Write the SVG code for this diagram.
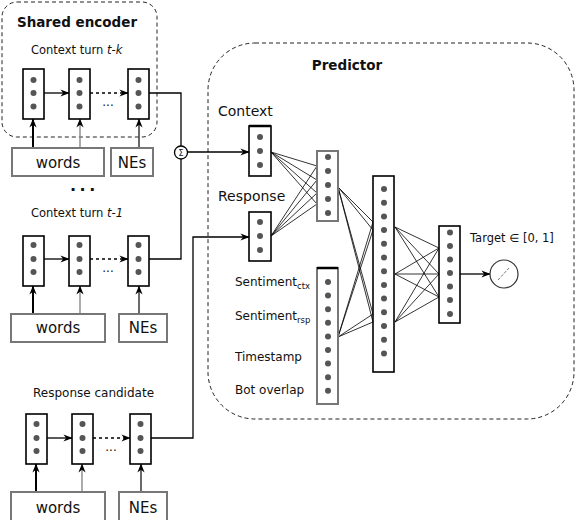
<svg xmlns="http://www.w3.org/2000/svg" width="576" height="520" viewBox="0 0 576 520">
<defs>
<marker id="ah" viewBox="0 0 10 10" refX="9.5" refY="5" markerWidth="9" markerHeight="9" markerUnits="userSpaceOnUse" orient="auto"><path d="M0,1 L10,5 L0,9 L3,5 z" fill="#000"/></marker>
</defs>
<style>
text, tspan{font-family:"DejaVu Sans","Liberation Sans",sans-serif;fill:#111}
.b{font-weight:bold}
.cell{fill:#fff;stroke:#000;stroke-width:1.6}
.gcell{fill:#fff;stroke:#777;stroke-width:2}
.dot{fill:#555}
.inp{fill:#fff;stroke:#777;stroke-width:2}
.grp{fill:none;stroke:#222;stroke-width:1;stroke-dasharray:4 3}
.ln{fill:none;stroke:#000;stroke-width:1.3}
.dash{fill:none;stroke:#000;stroke-width:1.3;stroke-dasharray:3 3}
.up1{stroke:#000;stroke-width:2}
.up2{stroke:#888;stroke-width:1.4}
.up3{stroke:#444;stroke-width:1.6}
.fc{stroke:#000;stroke-width:0.8}
.lbl{font-size:14px}
.small{font-size:11.5px}
.inl{font-size:15px}
.feat{font-size:12px}
</style>
<rect width="576" height="520" fill="#fff"/>

<!-- group frames -->
<g id="shared-encoder-frame">
<rect class="grp" x="2" y="2" width="155" height="135" rx="15"/>
<text class="b" x="77" y="27" font-size="13.5" text-anchor="middle">Shared encoder</text>
</g>
<g id="predictor-frame">
<rect class="grp" x="208" y="43" width="366" height="376" rx="47"/>
<text class="b" x="347" y="70" font-size="13.5" text-anchor="middle">Predictor</text>
</g>

<!-- connectors -->
<g id="connectors">
<!-- row t-k -->
<line class="ln" x1="44" y1="93" x2="69" y2="93" marker-end="url(#ah)"/>
<line class="dash" x1="90" y1="93" x2="128" y2="93" marker-end="url(#ah)"/>
<line class="up1" x1="33" y1="148" x2="33" y2="119" marker-end="url(#ah)"/>
<line class="up2" x1="80" y1="148" x2="80" y2="119" marker-end="url(#ah)"/>
<line class="up3" x1="139" y1="148" x2="139" y2="119" marker-end="url(#ah)"/>
<!-- row t-1 -->
<line class="ln" x1="44" y1="259" x2="69" y2="259" marker-end="url(#ah)"/>
<line class="dash" x1="90" y1="259" x2="128" y2="259" marker-end="url(#ah)"/>
<line class="up1" x1="33" y1="314" x2="33" y2="286" marker-end="url(#ah)"/>
<line class="up2" x1="80" y1="314" x2="80" y2="286" marker-end="url(#ah)"/>
<line class="up3" x1="139" y1="314" x2="139" y2="286" marker-end="url(#ah)"/>
<!-- response row -->
<line class="ln" x1="47" y1="438" x2="72" y2="438" marker-end="url(#ah)"/>
<line class="dash" x1="93" y1="438" x2="130" y2="438" marker-end="url(#ah)"/>
<line class="up1" x1="36" y1="492" x2="36" y2="464" marker-end="url(#ah)"/>
<line class="up2" x1="82" y1="492" x2="82" y2="464" marker-end="url(#ah)"/>
<line class="up3" x1="141" y1="492" x2="141" y2="464" marker-end="url(#ah)"/>
<!-- sum -->
<polyline class="ln" points="149,93 181,93 181,146"/>
<polyline class="ln" points="149,259 181,259 181,159"/>
<line class="ln" x1="187" y1="152" x2="249" y2="152" marker-end="url(#ah)"/>
<polyline class="ln" points="151,438 193,438 193,237 249,237" marker-end="url(#ah)"/>
<!-- fully connected -->
<g class="fc">
<line x1="271" y1="152" x2="317" y2="166"/><line x1="271" y1="152" x2="317" y2="180"/><line x1="271" y1="152" x2="317" y2="193"/><line x1="271" y1="152" x2="317" y2="204"/>
<line x1="271" y1="236" x2="317" y2="166"/><line x1="271" y1="236" x2="317" y2="180"/><line x1="271" y1="236" x2="317" y2="193"/><line x1="271" y1="236" x2="317" y2="204"/>
<line x1="338" y1="187" x2="373" y2="222"/><line x1="338" y1="187" x2="373" y2="230"/><line x1="338" y1="187" x2="373" y2="314"/><line x1="338" y1="187" x2="373" y2="322"/>
<line x1="338" y1="337" x2="373" y2="222"/><line x1="338" y1="337" x2="373" y2="230"/><line x1="338" y1="337" x2="373" y2="314"/><line x1="338" y1="337" x2="373" y2="322"/>
<line x1="395" y1="227" x2="439" y2="248"/><line x1="395" y1="227" x2="439" y2="274"/><line x1="395" y1="227" x2="439" y2="297"/>
<line x1="395" y1="274" x2="439" y2="248"/><line x1="395" y1="274" x2="439" y2="274"/><line x1="395" y1="274" x2="439" y2="297"/>
<line x1="395" y1="322" x2="439" y2="248"/><line x1="395" y1="322" x2="439" y2="274"/><line x1="395" y1="322" x2="439" y2="297"/>
</g>
<line class="ln" x1="460" y1="274" x2="490" y2="274" marker-end="url(#ah)"/>
</g>

<!-- context turn t-k -->
<g id="turn-tk">
<text class="small" x="31" y="54">Context turn <tspan font-style="italic">t-k</tspan></text>
<rect class="cell" x="23" y="69" width="21" height="50"/>
<circle class="dot" cx="33.5" cy="80" r="3"/><circle class="dot" cx="33.5" cy="93" r="3"/><circle class="dot" cx="33.5" cy="106.5" r="3"/>
<rect class="cell" x="69" y="69" width="21" height="50"/>
<circle class="dot" cx="79.5" cy="80" r="3"/><circle class="dot" cx="79.5" cy="93" r="3"/><circle class="dot" cx="79.5" cy="106.5" r="3"/>
<rect class="cell" x="128" y="69" width="21" height="50"/>
<circle class="dot" cx="138.5" cy="80" r="3"/><circle class="dot" cx="138.5" cy="93" r="3"/><circle class="dot" cx="138.5" cy="106.5" r="3"/>
<text x="108" y="106" font-size="12" text-anchor="middle">...</text>
</g>
<g id="words-tk"><rect class="inp" x="12" y="148" width="92" height="28"/><text class="inl" x="58" y="168" text-anchor="middle">words</text></g>
<g id="nes-tk"><rect class="inp" x="111" y="148" width="42" height="28"/><text class="inl" x="132" y="168" text-anchor="middle">NEs</text></g>

<text class="b" x="70" y="191" font-size="16" letter-spacing="3.5">...</text>

<!-- context turn t-1 -->
<g id="turn-t1">
<text class="small" x="31" y="217">Context turn <tspan font-style="italic">t-1</tspan></text>
<rect class="cell" x="23" y="236" width="21" height="50"/>
<circle class="dot" cx="33.5" cy="245" r="3"/><circle class="dot" cx="33.5" cy="259" r="3"/><circle class="dot" cx="33.5" cy="272" r="3"/>
<rect class="cell" x="69" y="236" width="21" height="50"/>
<circle class="dot" cx="79.5" cy="245" r="3"/><circle class="dot" cx="79.5" cy="259" r="3"/><circle class="dot" cx="79.5" cy="272" r="3"/>
<rect class="cell" x="128" y="236" width="21" height="50"/>
<circle class="dot" cx="138.5" cy="245" r="3"/><circle class="dot" cx="138.5" cy="259" r="3"/><circle class="dot" cx="138.5" cy="272" r="3"/>
<text x="108" y="272" font-size="12" text-anchor="middle">...</text>
</g>
<g id="words-t1"><rect class="inp" x="11" y="314" width="94" height="28"/><text class="inl" x="58" y="333" text-anchor="middle">words</text></g>
<g id="nes-t1"><rect class="inp" x="119" y="314" width="48" height="28"/><text class="inl" x="143" y="333" text-anchor="middle">NEs</text></g>

<!-- response candidate -->
<g id="response-candidate">
<text x="33" y="397" font-size="12">Response candidate</text>
<rect class="cell" x="26" y="414" width="21" height="50"/>
<circle class="dot" cx="36.5" cy="424" r="3"/><circle class="dot" cx="36.5" cy="438" r="3"/><circle class="dot" cx="36.5" cy="451" r="3"/>
<rect class="cell" x="72" y="414" width="21" height="50"/>
<circle class="dot" cx="82.5" cy="424" r="3"/><circle class="dot" cx="82.5" cy="438" r="3"/><circle class="dot" cx="82.5" cy="451" r="3"/>
<rect class="cell" x="130" y="414" width="21" height="50"/>
<circle class="dot" cx="140.5" cy="424" r="3"/><circle class="dot" cx="140.5" cy="438" r="3"/><circle class="dot" cx="140.5" cy="451" r="3"/>
<text x="111" y="451" font-size="12" text-anchor="middle">...</text>
</g>
<g id="words-resp"><rect class="inp" x="11" y="492" width="94" height="34"/><text class="inl" x="58" y="513" text-anchor="middle">words</text></g>
<g id="nes-resp"><rect class="inp" x="119" y="492" width="48" height="34"/><text class="inl" x="143" y="513" text-anchor="middle">NEs</text></g>

<!-- sum node -->
<g id="sum">
<circle cx="181" cy="152.5" r="6.5" fill="#fff" stroke="#000" stroke-width="1.3"/>
<text x="181" y="156" font-size="8" text-anchor="middle">Σ</text>
</g>

<!-- predictor inputs -->
<g id="context-vec">
<text class="lbl" x="218" y="116">Context</text>
<rect class="cell" x="249" y="126" width="22" height="50"/>
<line x1="249" y1="126" x2="271" y2="126" stroke="#000" stroke-width="2.5"/>
<circle class="dot" cx="260" cy="137" r="3"/><circle class="dot" cx="260" cy="151" r="3"/><circle class="dot" cx="260" cy="165" r="3"/>
</g>
<g id="response-vec">
<text class="lbl" x="218" y="201">Response</text>
<rect class="cell" x="249" y="212" width="22" height="49"/>
<circle class="dot" cx="260" cy="222" r="3"/><circle class="dot" cx="260" cy="236" r="3"/><circle class="dot" cx="260" cy="250" r="3"/>
</g>
<g id="hidden1">
<rect class="gcell" x="317" y="151" width="21" height="70"/>
<circle class="dot" cx="328" cy="157" r="3"/><circle class="dot" cx="328" cy="171" r="3"/><circle class="dot" cx="328" cy="185" r="3"/><circle class="dot" cx="328" cy="199" r="3"/><circle class="dot" cx="328" cy="213" r="3"/>
</g>
<g id="features">
<rect class="gcell" x="317" y="268" width="21" height="136"/>
<line x1="317" y1="268" x2="338" y2="268" stroke="#000" stroke-width="2.5"/>
<circle class="dot" cx="328" cy="282" r="3"/><circle class="dot" cx="328" cy="295.6" r="3"/><circle class="dot" cx="328" cy="309.2" r="3"/><circle class="dot" cx="328" cy="322.8" r="3"/><circle class="dot" cx="328" cy="336.4" r="3"/><circle class="dot" cx="328" cy="350" r="3"/><circle class="dot" cx="328" cy="363.6" r="3"/><circle class="dot" cx="328" cy="377.2" r="3"/><circle class="dot" cx="328" cy="390.8" r="3"/>
<text class="feat" x="235" y="286">Sentiment<tspan font-size="8.5" dy="3">ctx</tspan></text>
<text class="feat" x="235" y="320">Sentiment<tspan font-size="8.5" dy="3">rsp</tspan></text>
<text class="feat" x="235" y="361">Timestamp</text>
<text class="feat" x="235" y="394">Bot overlap</text>
</g>
<g id="hidden2">
<rect class="cell" x="373" y="176" width="21" height="196"/>
<circle class="dot" cx="384" cy="189" r="3"/><circle class="dot" cx="384" cy="202.7" r="3"/><circle class="dot" cx="384" cy="216.4" r="3"/><circle class="dot" cx="384" cy="230.1" r="3"/><circle class="dot" cx="384" cy="243.8" r="3"/><circle class="dot" cx="384" cy="257.5" r="3"/><circle class="dot" cx="384" cy="271.2" r="3"/><circle class="dot" cx="384" cy="284.9" r="3"/><circle class="dot" cx="384" cy="298.6" r="3"/><circle class="dot" cx="384" cy="312.3" r="3"/><circle class="dot" cx="384" cy="326" r="3"/><circle class="dot" cx="384" cy="339.7" r="3"/><circle class="dot" cx="384" cy="353.4" r="3"/>
</g>
<g id="output-layer">
<rect class="cell" x="439" y="226" width="21" height="97"/>
<circle class="dot" cx="450" cy="232.5" r="3"/><circle class="dot" cx="450" cy="246" r="3"/><circle class="dot" cx="450" cy="259.5" r="3"/><circle class="dot" cx="450" cy="273" r="3"/><circle class="dot" cx="450" cy="286.5" r="3"/><circle class="dot" cx="450" cy="300" r="3"/><circle class="dot" cx="450" cy="314" r="3"/>
</g>
<g id="target">
<text x="470" y="242" font-size="11.5">Target ∈ [0, 1]</text>
<circle cx="504" cy="274" r="14" fill="#fff" stroke="#333" stroke-width="1.2"/>
<line x1="498" y1="280" x2="509" y2="268" stroke="#666" stroke-width="0.9" stroke-dasharray="3 1.5"/>
</g>
</svg>
